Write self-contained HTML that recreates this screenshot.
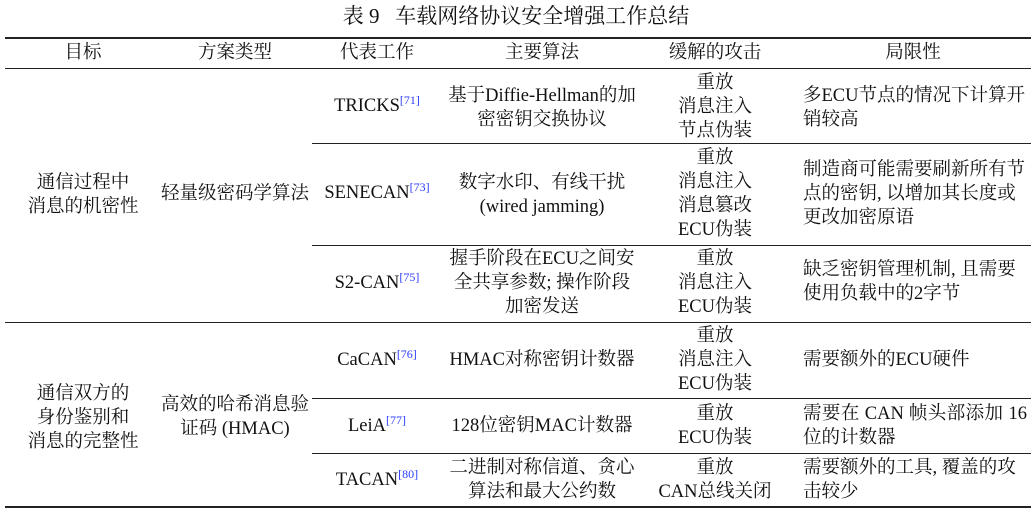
<!DOCTYPE html>
<html><head><meta charset="utf-8"><style>
body{margin:0;width:1033px;height:514px;background:#fff;position:relative;overflow:hidden;font-family:"Liberation Serif","Noto Serif CJK SC","Noto Sans CJK SC",serif;color:#111;font-size:18.5px}
.t{position:absolute;line-height:24px;white-space:nowrap}
.c{text-align:center;transform:translateX(-50%)}
.l{position:absolute;background:#222;height:1px}
sup{color:#2a3cff;font-size:12px;vertical-align:7px;line-height:0}
</style></head><body>
<div class="t c" style="left:516px;top:4px;font-size:21px">表 9&nbsp;&nbsp;&nbsp;车载网络协议安全增强工作总结</div>
<div class="l" style="left:5px;width:1026px;top:37px;height:2px"></div>
<div class="l" style="left:5px;width:1026px;top:68px"></div>
<div class="l" style="left:312px;width:719px;top:143px"></div>
<div class="l" style="left:312px;width:719px;top:245px"></div>
<div class="l" style="left:5px;width:1026px;top:322px"></div>
<div class="l" style="left:312px;width:719px;top:398px"></div>
<div class="l" style="left:312px;width:719px;top:453px"></div>
<div class="l" style="left:5px;width:1026px;top:506px;height:2px"></div>

<div class="t c" style="left:83px;top:41px">目标</div>
<div class="t c" style="left:235px;top:41px">方案类型</div>
<div class="t c" style="left:377px;top:41px">代表工作</div>
<div class="t c" style="left:542px;top:41px">主要算法</div>
<div class="t c" style="left:715px;top:41px">缓解的攻击</div>
<div class="t c" style="left:913px;top:41px">局限性</div>

<div class="t c" style="left:83px;top:171px">通信过程中<br>消息的机密性</div>
<div class="t c" style="left:235px;top:182px">轻量级密码学算法</div>
<div class="t c" style="left:83px;top:382px">通信双方的<br>身份鉴别和<br>消息的完整性</div>
<div class="t c" style="left:235px;top:393px">高效的哈希消息验<br>证码 (HMAC)</div>

<div class="t c" style="left:377px;top:94px">TRICKS<sup>[71]</sup></div>
<div class="t c" style="left:542px;top:84px">基于Diffie-Hellman的加<br>密密钥交换协议</div>
<div class="t c" style="left:715px;top:71px">重放<br>消息注入<br>节点伪装</div>
<div class="t" style="left:803px;top:84px">多ECU节点的情况下计算开<br>销较高</div>

<div class="t c" style="left:377px;top:181px">SENECAN<sup>[73]</sup></div>
<div class="t c" style="left:542px;top:171px">数字水印、有线干扰<br>(wired jamming)</div>
<div class="t c" style="left:715px;top:146px">重放<br>消息注入<br>消息篡改<br>ECU伪装</div>
<div class="t" style="left:803px;top:158px">制造商可能需要刷新所有节<br>点的密钥, 以增加其长度或<br>更改加密原语</div>

<div class="t c" style="left:377px;top:271px">S2-CAN<sup>[75]</sup></div>
<div class="t c" style="left:542px;top:247px">握手阶段在ECU之间安<br>全共享参数; 操作阶段<br>加密发送</div>
<div class="t c" style="left:715px;top:247px">重放<br>消息注入<br>ECU伪装</div>
<div class="t" style="left:803px;top:258px">缺乏密钥管理机制, 且需要<br>使用负载中的2字节</div>

<div class="t c" style="left:377px;top:348px">CaCAN<sup>[76]</sup></div>
<div class="t c" style="left:542px;top:348px">HMAC对称密钥计数器</div>
<div class="t c" style="left:715px;top:324px">重放<br>消息注入<br>ECU伪装</div>
<div class="t" style="left:803px;top:348px">需要额外的ECU硬件</div>

<div class="t c" style="left:377px;top:414px">LeiA<sup>[77]</sup></div>
<div class="t c" style="left:542px;top:414px">128位密钥MAC计数器</div>
<div class="t c" style="left:715px;top:402px">重放<br>ECU伪装</div>
<div class="t" style="left:803px;top:402px;width:224px;text-align:justify;text-align-last:justify">需要在 CAN 帧头部添加 16</div>
<div class="t" style="left:803px;top:426px">位的计数器</div>

<div class="t c" style="left:377px;top:468px">TACAN<sup>[80]</sup></div>
<div class="t c" style="left:542px;top:456px">二进制对称信道、贪心<br>算法和最大公约数</div>
<div class="t c" style="left:715px;top:456px">重放<br>CAN总线关闭</div>
<div class="t" style="left:803px;top:456px">需要额外的工具, 覆盖的攻<br>击较少</div>
</body></html>
